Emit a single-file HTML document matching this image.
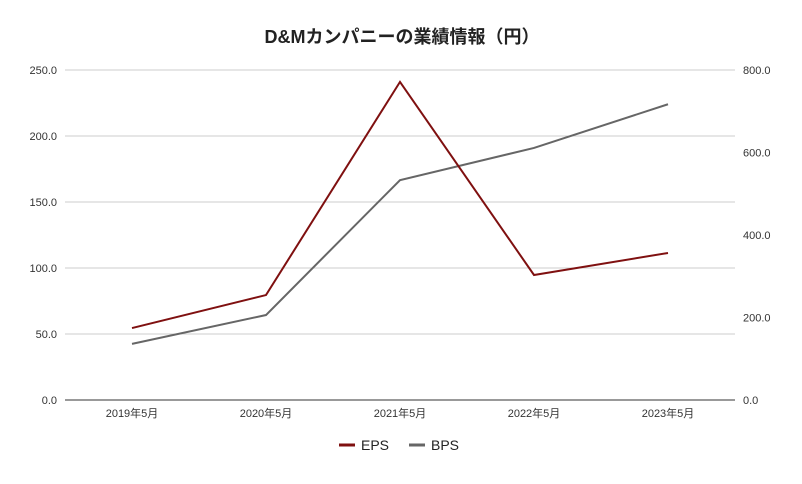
<!DOCTYPE html>
<html><head><meta charset="utf-8">
<style>
body{margin:0;background:#fff;}
svg text{font-family:"Liberation Sans","Noto Sans CJK JP",sans-serif;}
</style></head>
<body>
<svg id="chart" width="802" height="479" xmlns="http://www.w3.org/2000/svg">
<rect width="802" height="479" fill="#fff"/>
<text x="402" y="43" text-anchor="middle" font-size="18" font-weight="bold" fill="#222">D&amp;Mカンパニーの業績情報（円）</text>
<g id="grid"></g><g id="axes"></g><g id="series"></g>
<g>
<g><line x1="339" y1="445" x2="355" y2="445" stroke="#7f1010" stroke-width="3"/><text x="361" y="450" font-size="14" fill="#222">EPS</text></g>
<g><line x1="409" y1="445" x2="425" y2="445" stroke="#666" stroke-width="3"/><text x="431" y="450" font-size="14" fill="#222">BPS</text></g>
</g>
</svg>
<script>
const categories=["2019年5月","2020年5月","2021年5月","2022年5月","2023年5月"];
const epsValues=[54.5,79.5,241,94.7,111.4];
const bpsValues=[136,206,533,611,717];
const leftTicks=[0,50,100,150,200,250];
const rightTicks=[0,200,400,600,800];
const NS="http://www.w3.org/2000/svg";
const x0=65,x1=735,yTop=70,yBot=400;
const xPos=i=>x0+(x1-x0)*(i+0.5)/categories.length;
const yL=v=>yBot-(v/250)*(yBot-yTop);
const yR=v=>yBot-(v/800)*(yBot-yTop);
function mk(tag,attrs,parent,txt){const e=document.createElementNS(NS,tag);for(const k in attrs)e.setAttribute(k,attrs[k]);if(txt!==undefined)e.textContent=txt;parent.appendChild(e);return e;}
const grid=document.getElementById('grid'),axes=document.getElementById('axes'),series=document.getElementById('series');
leftTicks.forEach(v=>{
 const l=mk('line',{x1:x0,x2:x1,y1:yL(v),y2:yL(v),stroke:v===0?'#333':'#ccc','stroke-width':1},grid);
 
 
 const t=mk('text',{x:57,y:yL(v)+4,'text-anchor':'end','font-size':11,fill:'#333'},axes,v.toFixed(1));
 
 
});
rightTicks.forEach(v=>{
 const t=mk('text',{x:743,y:yR(v)+4,'text-anchor':'start','font-size':11,fill:'#333'},axes,v.toFixed(1));
 
 
});
categories.forEach((c,i)=>{
 const t=mk('text',{x:xPos(i),y:417,'text-anchor':'middle','font-size':11,fill:'#333'},axes,c);
 
 
});
const bp=mk('polyline',{points:bpsValues.map((v,i)=>xPos(i)+','+yR(v)).join(' '),fill:'none',stroke:'#666','stroke-width':2},series);


const ep=mk('polyline',{points:epsValues.map((v,i)=>xPos(i)+','+yL(v)).join(' '),fill:'none',stroke:'#7f1010','stroke-width':2},series);


</script>
</body></html>
